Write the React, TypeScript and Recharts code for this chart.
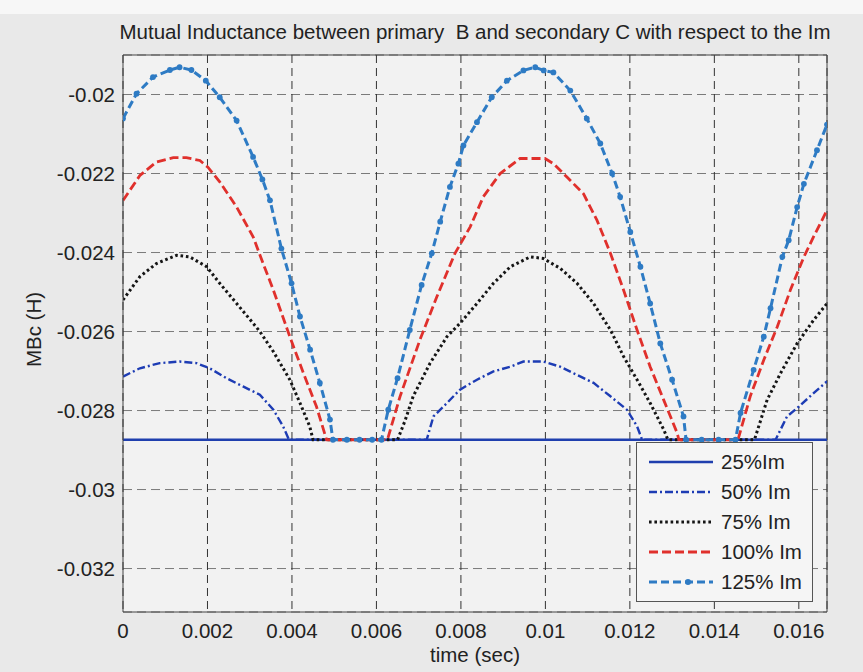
import React from "react";
import { LineChart, Line, XAxis, YAxis, CartesianGrid, Legend, ReferenceLine, Label } from "recharts";

// flat level that all curves settle on (H)
const floorM = -0.02874;

const xTicks = [0, 0.002, 0.004, 0.006, 0.008, 0.01, 0.012, 0.014, 0.016];
const yTicks = [-0.032, -0.03, -0.028, -0.026, -0.024, -0.022, -0.02];

// time samples in ms, inductance in H
const tMs25 = [0, 16.667];
const m25 = [floorM, floorM];

const tMs50 = [0, 0.4, 0.87, 1.34, 1.74, 2.05, 2.45, 2.84, 3.24, 3.56, 3.79, 3.93, 7.19, 7.35, 7.67, 7.98, 8.38, 8.77, 9.17, 9.48, 9.95, 10.35, 10.75, 11.14, 11.54, 11.93, 12.17, 12.29, 15.45, 15.72, 15.96, 16.35, 16.667];
const m50 = [-0.02714, -0.02693, -0.0268, -0.02676, -0.0268, -0.02693, -0.02718, -0.02739, -0.0276, -0.02798, -0.0284, floorM, floorM, -0.02815, -0.02781, -0.02747, -0.02722, -0.02701, -0.02689, -0.02676, -0.02676, -0.02689, -0.0271, -0.0273, -0.02764, -0.02798, -0.0284, floorM, floorM, -0.02815, -0.02794, -0.02756, -0.02726];

const tMs75 = [0, 0.4, 0.79, 1.27, 1.58, 1.98, 2.29, 2.69, 3.08, 3.24, 3.56, 3.95, 4.19, 4.42, 4.5, 6.5, 6.68, 6.87, 7.27, 7.67, 7.98, 8.38, 8.77, 9.17, 9.64, 9.95, 10.35, 10.75, 11.14, 11.54, 11.85, 12.17, 12.48, 12.8, 12.9, 14.95, 15.25, 15.57, 15.96, 16.35, 16.667];
const m75 = [-0.0252, -0.02461, -0.02428, -0.02407, -0.02411, -0.02436, -0.02478, -0.02529, -0.02579, -0.026, -0.02651, -0.02722, -0.02781, -0.0284, floorM, floorM, -0.02825, -0.02764, -0.0268, -0.02613, -0.02579, -0.02529, -0.02478, -0.02436, -0.02411, -0.02415, -0.0244, -0.02478, -0.02529, -0.02596, -0.02663, -0.02722, -0.02781, -0.02848, floorM, floorM, -0.02773, -0.02705, -0.0263, -0.02571, -0.02529];

const tMs100 = [0, 0.4, 0.79, 1.19, 1.5, 1.82, 2.01, 2.29, 2.69, 3.08, 3.3, 3.56, 3.95, 4.27, 4.58, 4.82, 6.26, 6.56, 7.03, 7.43, 7.86, 8.22, 8.53, 8.93, 9.4, 9.99, 10.19, 10.51, 10.9, 11.22, 11.54, 11.85, 12.17, 12.48, 12.8, 13.12, 13.16, 14.56, 14.85, 15.17, 15.49, 15.8, 16.12, 16.35, 16.667];
const m100 = [-0.02268, -0.02205, -0.02171, -0.0216, -0.0216, -0.02167, -0.02184, -0.02221, -0.02285, -0.0236, -0.02423, -0.02495, -0.02613, -0.02705, -0.0279, floorM, floorM, -0.02764, -0.02621, -0.02512, -0.02402, -0.02335, -0.02259, -0.022, -0.02162, -0.02162, -0.02175, -0.02209, -0.02251, -0.02318, -0.02402, -0.02495, -0.02596, -0.02689, -0.02773, -0.02857, floorM, floorM, -0.02764, -0.02672, -0.02588, -0.02495, -0.02411, -0.0236, -0.02293];

const tMs125 = [0, 0.32, 0.71, 1.11, 1.34, 1.62, 1.96, 2.29, 2.69, 3.08, 3.3, 3.48, 3.75, 3.99, 4.19, 4.43, 4.66, 4.9, 4.97, 5.3, 5.6, 5.9, 6.12, 6.28, 6.5, 6.79, 7.07, 7.31, 7.51, 7.74, 7.94, 8.06, 8.38, 8.73, 9.09, 9.48, 9.76, 9.96, 10.19, 10.59, 10.98, 11.3, 11.58, 11.77, 12.01, 12.25, 12.48, 12.72, 13.0, 13.27, 13.33, 13.7, 14.1, 14.5, 14.62, 14.93, 15.17, 15.33, 15.61, 15.76, 15.96, 16.12, 16.43, 16.667];
const m125 = [-0.02061, -0.01998, -0.01956, -0.01938, -0.01931, -0.01938, -0.01965, -0.02007, -0.02066, -0.02158, -0.02215, -0.02268, -0.0239, -0.02478, -0.02562, -0.02646, -0.0273, -0.02823, floorM, floorM, floorM, floorM, floorM, -0.02798, -0.02718, -0.02596, -0.02482, -0.02402, -0.02322, -0.02234, -0.02175, -0.02129, -0.0207, -0.02007, -0.01965, -0.01939, -0.01931, -0.01939, -0.01944, -0.0199, -0.02061, -0.02124, -0.022, -0.02259, -0.02348, -0.02436, -0.02529, -0.0263, -0.02722, -0.02815, floorM, floorM, floorM, floorM, -0.02806, -0.02697, -0.02613, -0.02541, -0.02411, -0.02369, -0.02285, -0.02226, -0.02141, -0.02076];

const toPoints = (tMs: number[], m: number[]) => tMs.map((t, i) => ({ t: t / 1000, v: m[i] }));

const series = [
  { name: "25%Im", data: toPoints(tMs25, m25), color: "#1f3fae", dash: undefined, width: 2.6, dots: false },
  { name: "50% Im", data: toPoints(tMs50, m50), color: "#1d3cb4", dash: "8 3 2 3", width: 2.4, dots: false },
  { name: "75% Im", data: toPoints(tMs75, m75), color: "#151515", dash: "2.6 2.8", width: 3, dots: false },
  { name: "100% Im", data: toPoints(tMs100, m100), color: "#e0302c", dash: "9 4", width: 2.8, dots: false },
  { name: "125% Im", data: toPoints(tMs125, m125), color: "#2e7bc4", dash: "8 4", width: 3, dots: true },
];

const font = "'Liberation Sans', Arial, Helvetica, sans-serif";
const fontSize = 20.5;
const fmt = (v: number) => String(parseFloat(v.toFixed(4)));

const renderDot = (props: any) => {
  const { cx, cy, index } = props;
  return <circle key={`dot-${index}`} cx={cx} cy={cy} r={2.9} fill="#2e7bc4" />;
};

function LegendBox() {
  return (
    <div
      style={{
        width: 177,
        height: 160,
        boxSizing: "border-box",
        border: "1px solid #555",
        background: "#f5f5f5",
        padding: "4px 0 0 11px",
        fontFamily: font,
      }}
    >
      {series.map((s) => (
        <div key={s.name} style={{ display: "flex", alignItems: "center", height: 30 }}>
          <svg width={66} height={12}>
            <line x1={1} x2={65} y1={6} y2={6} stroke={s.color} strokeWidth={s.width} strokeDasharray={s.dash} />
            {s.dots && <circle cx={40} cy={6} r={3} fill={s.color} />}
          </svg>
          <span style={{ marginLeft: 7, fontSize, color: "#222", whiteSpace: "nowrap" }}>{s.name}</span>
        </div>
      ))}
    </div>
  );
}

export default function App() {
  return (
    <div style={{ position: "absolute", left: 0, top: 0, width: 863, height: 672, background: "#e9e9e9", fontFamily: font }}>
      <div style={{ position: "absolute", left: 0, top: 0, width: 863, height: 14, background: "#f7f7f7" }} />
      <div
        style={{
          position: "absolute",
          left: 75,
          width: 800,
          top: 20,
          textAlign: "center",
          fontSize,
          color: "#222",
          whiteSpace: "nowrap",
        }}
      >
        Mutual Inductance between primary&nbsp; B and secondary C with respect to the Im
      </div>
      <LineChart width={863} height={672} margin={{ top: 55, right: 36, left: 0, bottom: 0 }}>
        <CartesianGrid vertical={false} horizontal stroke="#7a7a7a" strokeDasharray="9 5" fill="#f2f2f2" />
        <CartesianGrid horizontal={false} vertical stroke="#333" strokeDasharray="8 5" />
        <XAxis
          dataKey="t"
          type="number"
          domain={[0, 0.016667]}
          ticks={xTicks}
          tickFormatter={fmt}
          allowDataOverflow
          tickLine={false}
          stroke="#444"
          height={60}
          tickMargin={5}
          tick={{ fontSize, fill: "#222", fontFamily: font }}
        >
          <Label value="time (sec)" position="insideBottom" offset={10} style={{ fontSize, fill: "#222", fontFamily: font }} />
        </XAxis>
        <YAxis
          type="number"
          domain={[-0.0331, -0.019]}
          ticks={yTicks}
          tickFormatter={fmt}
          allowDataOverflow
          tickLine={false}
          stroke="#444"
          width={123}
          tick={{ fontSize, fill: "#222", fontFamily: font }}
        >
          <Label
            content={({ viewBox }: any) => {
              const cx = viewBox.x + 33;
              const cy = viewBox.y + viewBox.height / 2 - 4;
              return (
                <text
                  x={cx}
                  y={cy}
                  transform={`rotate(-90 ${cx} ${cy})`}
                  textAnchor="middle"
                  dominantBaseline="central"
                  style={{ fontSize, fill: "#222", fontFamily: font }}
                >
                  MBc (H)
                </text>
              );
            }}
          />
        </YAxis>
        <ReferenceLine y={-0.019} stroke="#444" />
        <ReferenceLine x={0.016667} stroke="#444" />
        {series.map((s) => (
          <Line
            key={s.name}
            data={s.data}
            dataKey="v"
            name={s.name}
            type="linear"
            stroke={s.color}
            strokeWidth={s.width}
            strokeDasharray={s.dash}
            dot={s.dots ? renderDot : false}
            activeDot={false}
            isAnimationActive={false}
          />
        ))}
        <Legend
          layout="vertical"
          align="center"
          verticalAlign="middle"
          content={<LegendBox />}
          wrapperStyle={{ left: 636, top: 442, width: 177, height: 160 }}
        />
      </LineChart>
    </div>
  );
}
